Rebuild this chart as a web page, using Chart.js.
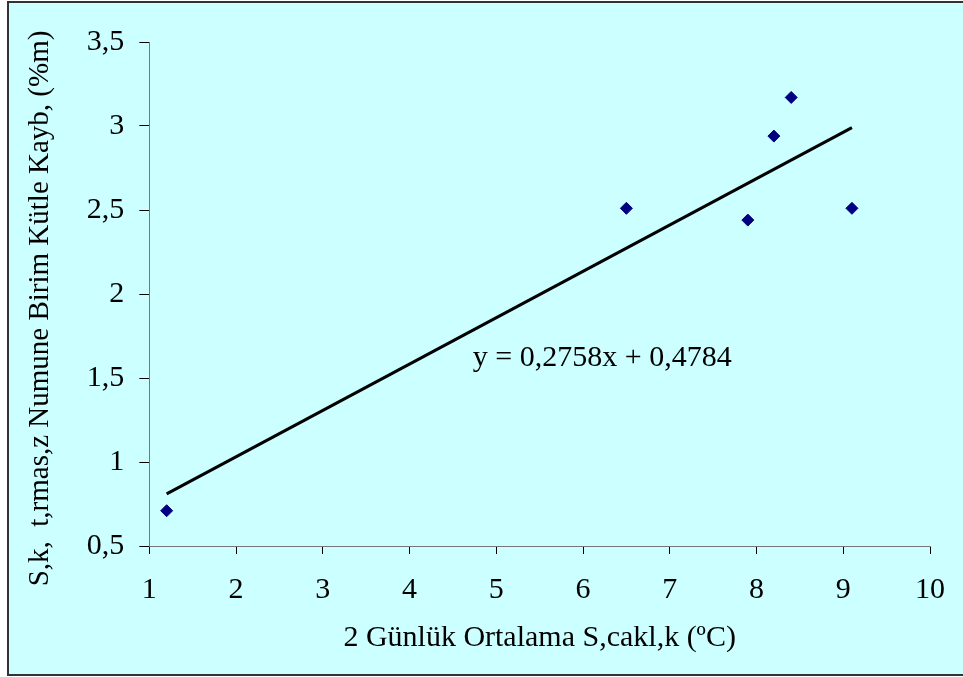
<!DOCTYPE html>
<html>
<head>
<meta charset="utf-8">
<script src="https://cdn.jsdelivr.net/npm/chart.js@4/dist/chart.umd.min.js"></script>
<style>
  html, body { margin: 0; padding: 0; background: #fff; overflow: hidden; }
  #frame {
    position: absolute; left: 7px; top: 1px; width: 970px; height: 671px;
    border: 2px solid #333; background: #ccffff;
  }
  #chart { position: absolute; left: 0; top: 0; }
</style>
</head>
<body>
<div id="frame"></div>
<canvas id="chart" width="963" height="677"></canvas>
<script>
// measured points
const tempValues = [1.2, 6.5, 7.9, 8.2, 8.4, 9.1];
const lossValues = [0.71, 2.51, 2.44, 2.94, 3.17, 2.51];

// trend line ends (matches y = 0,2758x + 0,4784)
const trendX = [1.2, 9.1];
const trendY = [0.81, 2.99];
const trendLabel = 'y = 0,2758x + 0,4784';
const trendLabelPos = [4.73, 1.62];

const xTickLabels = ['1', '2', '3', '4', '5', '6', '7', '8', '9', '10'];
const yTickLabels = ['0,5', '1', '1,5', '2', '2,5', '3', '3,5'];

const xTitle = '2 Günlük Ortalama S,cakl,k (ºC)';
// trailing spaces push the rotated title a little down, like the original
const yTitle = 'S,k,  t,rmas,z Numune Birim Kütle Kayb, (%m)    ';

const serif = "'Liberation Serif', 'Times New Roman', serif";

// writes the equation next to the line
const equationPlugin = {
  id: 'equation',
  afterDatasetsDraw(chart) {
    const ctx = chart.ctx;
    const px = chart.scales.x.getPixelForValue(trendLabelPos[0]);
    const py = chart.scales.y.getPixelForValue(trendLabelPos[1]);
    ctx.save();
    ctx.font = '30px ' + serif;
    ctx.fillStyle = '#000';
    ctx.textAlign = 'left';
    ctx.textBaseline = 'middle';
    ctx.fillText(trendLabel, px, py);
    ctx.restore();
  }
};

const ctx = document.getElementById('chart').getContext('2d');
new Chart(ctx, {
  type: 'scatter',
  data: {
    datasets: [{
      label: 'trend',
      data: trendX.map((x, i) => ({ x: x, y: trendY[i] })),
      showLine: true,
      borderColor: '#000',
      borderWidth: 3,
      pointRadius: 0
    }, {
      label: 'points',
      data: tempValues.map((x, i) => ({ x: x, y: lossValues[i] })),
      pointStyle: 'rectRot',
      pointRadius: 6,
      backgroundColor: '#000080',
      borderColor: '#000080',
      borderWidth: 1
    }]
  },
  options: {
    responsive: false,
    devicePixelRatio: 1,
    animation: false,
    layout: { padding: { left: 10, right: 23, top: 42, bottom: 10 } },
    plugins: {
      legend: { display: false },
      tooltip: { enabled: false }
    },
    scales: {
      x: {
        type: 'linear',
        min: 1,
        max: 10,
        ticks: {
          stepSize: 1,
          color: '#000',
          padding: 18,
          font: { family: serif, size: 30 },
          callback: (v) => xTickLabels[Math.round(v - 1)]
        },
        grid: { drawOnChartArea: false, tickLength: 8, color: '#000' },
        border: { color: '#777', width: 1 },
        title: {
          display: true,
          text: xTitle,
          color: '#000',
          font: { family: serif, size: 30, lineHeight: 0.8 },
          padding: { top: 0, bottom: 17 }
        }
      },
      y: {
        type: 'linear',
        min: 0.5,
        max: 3.5,
        ticks: {
          stepSize: 0.5,
          color: '#000',
          padding: 15,
          font: { family: serif, size: 30 },
          callback: (v) => yTickLabels[Math.round((v - 0.5) * 2)]
        },
        grid: { drawOnChartArea: false, tickLength: 10, color: '#000' },
        border: { color: '#777', width: 1 },
        title: {
          display: true,
          text: yTitle,
          color: '#000',
          font: { family: serif, size: 29 },
          padding: { top: 13, bottom: 14 }
        }
      }
    }
  },
  plugins: [equationPlugin]
});
</script>
</body>
</html>
